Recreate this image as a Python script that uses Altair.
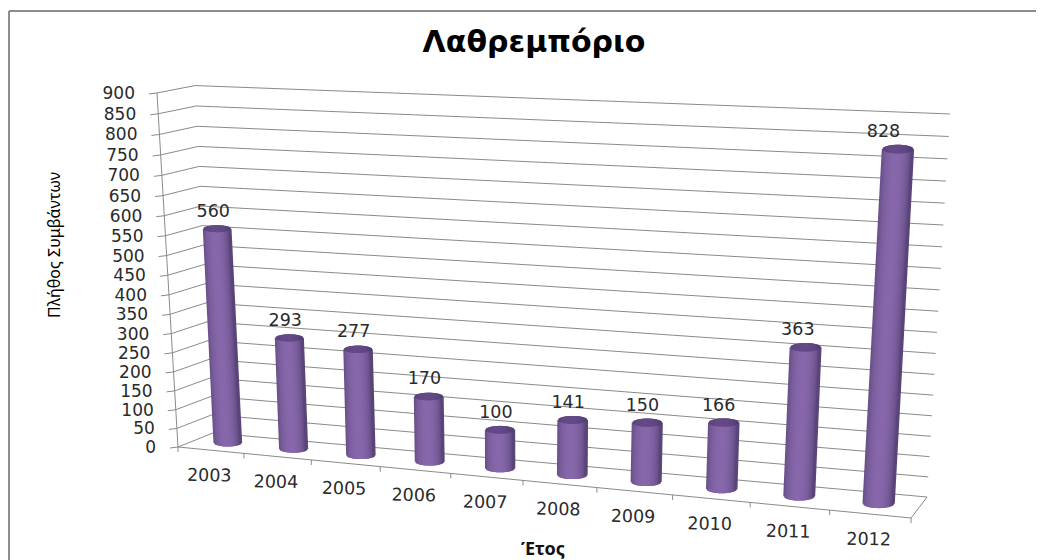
import math
import altair as alt
import pandas as pd

# ---- values
years = [2003, 2004, 2005, 2006, 2007, 2008, 2009, 2010, 2011, 2012]
counts = [560, 293, 277, 170, 100, 141, 150, 166, 363, 828]
y_ticks = list(range(0, 901, 50))
title_text = "Λαθρεμπόριο"
y_title = "Πλήθος Συμβάντων"
x_title = "Έτος"

W, H = 1028, 552
Y_MAX = 900

# ---- 3-D box of the chart (page pixels of its corners)
F00, F01 = (178, 447), (157, 93)
F10, F11 = (911, 518), (935, 122)
B00, B01 = (213, 433), (195, 85.6)
B10, B11 = (927, 497), (950, 114)


def warp_u(u):
    return (651.7 * u / (1 - 0.111 * u)) / 733


def warp_v(v):
    return (333.5 * v / (1 - 0.058 * v)) / 354


def lerp(a, b, t):
    return (a[0] + (b[0] - a[0]) * t, a[1] + (b[1] - a[1]) * t)


def project(u, value, w):
    """u: 0..1 along the categories, value: data value, w: 0 front .. 1 back."""
    gu, gv = warp_u(u), warp_v(value / Y_MAX)
    front = lerp(lerp(F00, F10, gu), lerp(F01, F11, gu), gv)
    back = lerp(lerp(B00, B10, gu), lerp(B01, B11, gu), gv)
    return lerp(front, back, w)


def hexmix(c1, c2, t):
    a = [int(c1[i:i + 2], 16) for i in (1, 3, 5)]
    b = [int(c2[i:i + 2], 16) for i in (1, 3, 5)]
    return "#%02x%02x%02x" % tuple(round(p + (q - p) * t) for p, q in zip(a, b))


sx = alt.Scale(domain=[8, 8 + W], nice=False, zero=False)
sy = alt.Scale(domain=[8 + H, 8], nice=False, zero=False)
X = alt.X("x:Q", scale=sx, axis=None)
Y = alt.Y("y:Q", scale=sy, axis=None)

# ---- frame, walls, floor, ticks
frame, grid = [], []
frame.append(dict(x=9, y=11, x2=9, y2=8 + H))
frame.append(dict(x=9, y=11, x2=8 + W, y2=11))


def seg(a, b):
    return dict(x=a[0], y=a[1], x2=b[0], y2=b[1])


for t in y_ticks:
    fl = project(0, t, 0)
    bl = project(0, t, 1)
    br = project(1, t, 1)
    grid.append(seg(fl, bl))
    grid.append(seg(bl, br))
    grid.append(seg((fl[0] - 8, fl[1] + 1), fl))
grid.append(seg(project(0, 0, 0), project(0, Y_MAX, 0)))
grid.append(seg(project(0, 0, 0), project(1, 0, 0)))
grid.append(seg(project(1, 0, 0), project(1, 0, 1)))
for i in range(len(years) + 1):
    p = project(i / len(years), 0, 0)
    grid.append(seg(p, (p[0], p[1] + 5)))

# ---- cylinders as thin overlapping slices
strips, caps, labels, xlabels = [], [], [], []
N = 34
SW = 2.4
for i, (yr, val) in enumerate(zip(years, counts)):
    u = (i + 0.5) / len(years)
    base = project(u, 0, 0.5)
    top = project(u, val, 0.5)
    r = (28.5 + 4 * u) / 2 - SW / 2
    e = 3.4 + 1.0 * u
    for k in range(N):
        t = -1 + 2 * k / (N - 1)
        s = math.sqrt(max(1 - t * t, 0))
        shade = max(math.cos((t + 0.08) * math.pi / 2), 0) ** 0.55
        col = hexmix("#5a4579", "#8768ab", shade)
        strips.append(dict(o=len(strips), x=base[0] + t * r, y=base[1] + e * s,
                           x2=top[0] + t * r, y2=top[1] + e * s, c=col))
        caps.append(dict(o=len(caps), x=top[0] + t * r, y=top[1] - e * s,
                         x2=top[0] + t * r, y2=top[1] + e * s,
                         c=hexmix("#523d72", "#644a87", shade)))
    labels.append(dict(x=top[0] - 3.5 - 12.5 * u * val / Y_MAX, y=top[1] - 17, t=str(val)))
    p = project(u, 0, 0)
    xlabels.append(dict(x=p[0] - 1.5, y=p[1] + 26, t=str(yr)))

ylabels = []
for t in y_ticks:
    p = project(0, t, 0)
    ylabels.append(dict(x=p[0] - 22, y=p[1] + 1, t=str(t)))

rule = lambda rows, **kw: alt.Chart(pd.DataFrame(rows)).mark_rule(**kw).encode(
    x=X, y=Y, x2="x2:Q", y2="y2:Q")
sliced = lambda rows: alt.Chart(pd.DataFrame(rows)).mark_rule(strokeWidth=SW).encode(
    x=X, y=Y, x2="x2:Q", y2="y2:Q", color=alt.Color("c:N", scale=None, legend=None),
    order="o:Q")
text = lambda rows, **kw: alt.Chart(pd.DataFrame(rows)).mark_text(**kw).encode(
    x=X, y=Y, text="t:N")

FONT = "DejaVu Sans"
chart = alt.layer(
    rule(frame, color="#8c8c8c", strokeWidth=2),
    rule(grid, color="#8a8a8a", strokeWidth=1),
    sliced(strips),
    sliced(caps),
    text(labels, font=FONT, fontSize=17.5, color="#2a2a2a"),
    text(xlabels, font=FONT, fontSize=17.5, color="#2a2a2a", angle=1),
    text(ylabels, font=FONT, fontSize=17, color="#2a2a2a", align="right"),
    text([dict(x=534, y=43, t=title_text)], font=FONT, fontSize=30, fontWeight="bold", color="#000000"),
    text([dict(x=55, y=245, t=y_title)], font="Noto Sans", fontSize=16, color="#000000", angle=270),
    text([dict(x=543, y=550, t=x_title)], font="Noto Sans", fontSize=18, fontWeight="bold", color="#111111"),
).properties(width=W, height=H, padding=0, autosize=alt.AutoSizeParams(type="none"),
             background="white").configure_view(stroke=None)

chart.save("out.html", embed_options={"renderer": "svg", "actions": False})
